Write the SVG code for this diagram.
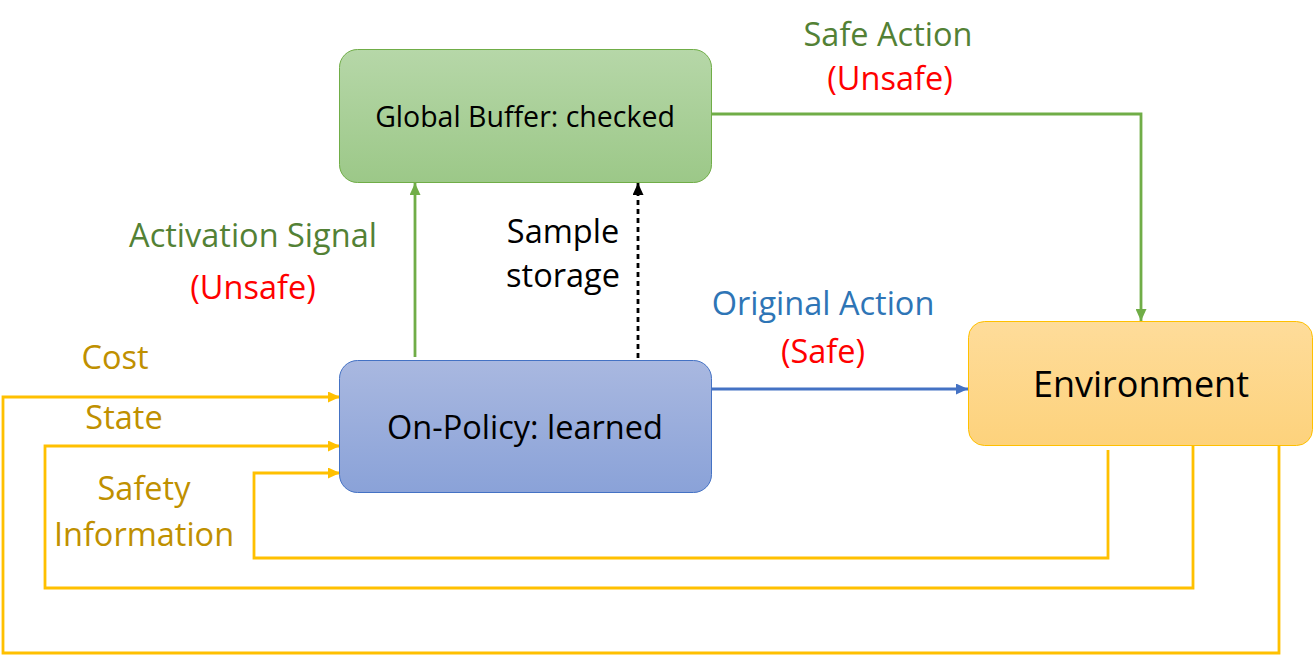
<svg xmlns="http://www.w3.org/2000/svg" width="1314" height="656" viewBox="0 0 1314 656">
<defs>
<linearGradient id="gGreen" x1="0" y1="0" x2="0" y2="1"><stop offset="0" stop-color="#b6d7a8"/><stop offset="1" stop-color="#9cc888"/></linearGradient>
<linearGradient id="gBlue" x1="0" y1="0" x2="0" y2="1"><stop offset="0" stop-color="#a9b8e0"/><stop offset="1" stop-color="#8aa2d8"/></linearGradient>
<linearGradient id="gYellow" x1="0" y1="0" x2="0" y2="1"><stop offset="0" stop-color="#fedc9a"/><stop offset="1" stop-color="#fdd27c"/></linearGradient>
<marker id="aGreen" viewBox="0 0 12 11" refX="12" refY="5.5" markerWidth="12" markerHeight="11" markerUnits="userSpaceOnUse" orient="auto"><path d="M0,0 L12,5.5 L0,11 Z" fill="#70ad47"/></marker>
<marker id="aBlack" viewBox="0 0 12 11" refX="12" refY="5.5" markerWidth="12" markerHeight="11" markerUnits="userSpaceOnUse" orient="auto"><path d="M0,0 L12,5.5 L0,11 Z" fill="#000"/></marker>
<marker id="aBlue" viewBox="0 0 12 11" refX="12" refY="5.5" markerWidth="12" markerHeight="11" markerUnits="userSpaceOnUse" orient="auto"><path d="M0,0 L12,5.5 L0,11 Z" fill="#4472c4"/></marker>
<marker id="aYellow" viewBox="0 0 12 11" refX="12" refY="5.5" markerWidth="12" markerHeight="11" markerUnits="userSpaceOnUse" orient="auto"><path d="M0,0 L12,5.5 L0,11 Z" fill="#ffc000"/></marker>
</defs>
<style>
text{font-family:"Open Sans","Noto Sans","DejaVu Sans",sans-serif;text-anchor:middle}
.node{font-size:28.5px;fill:#000}
.lbl{font-size:32.5px}
.green{fill:#538135}
.red{fill:#ff0000}
.blue{fill:#2e75b6}
.gold{fill:#bf9000}
.blk{fill:#000}
.c{fill:none;stroke-width:2.8}
</style>
<rect width="1314" height="656" fill="#fff"/>
<g id="connectors">
<path class="c" d="M415,357 V183" stroke="#70ad47" marker-end="url(#aGreen)"/>
<path class="c" d="M638,358 V183" stroke="#000" stroke-width="2" stroke-dasharray="5,4" marker-end="url(#aBlack)"/>
<path class="c" d="M712,389 H968" stroke="#4472c4" marker-end="url(#aBlue)"/>
<path class="c" d="M712,114 H1141 V321" stroke="#70ad47" marker-end="url(#aGreen)"/>
<path class="c" d="M1279,443 V653 H3 V397 H340" stroke="#ffc000" marker-end="url(#aYellow)"/>
<path class="c" d="M1193,446 V588 H45 V446 H340" stroke="#ffc000" marker-end="url(#aYellow)"/>
<path class="c" d="M1108,450 V558 H254 V473 H340" stroke="#ffc000" marker-end="url(#aYellow)"/>
</g>
<g id="global-buffer">
<rect x="339.5" y="49.5" width="372" height="133" rx="18" fill="url(#gGreen)" stroke="#70ad47" stroke-width="1"/>
<text class="node" x="525" y="127">Global Buffer: checked</text>
</g>
<g id="on-policy">
<rect x="339.5" y="360.5" width="372" height="132" rx="18" fill="url(#gBlue)" stroke="#4472c4" stroke-width="1"/>
<text class="node" x="525" y="439" style="font-size:32.5px">On-Policy: learned</text>
</g>
<g id="environment">
<rect x="968.5" y="321.5" width="344" height="124" rx="16" fill="url(#gYellow)" stroke="#ffc000" stroke-width="1"/>
<text class="node" x="1141" y="397" style="font-size:36px">Environment</text>
</g>
<g id="labels">
<text class="lbl green" x="888" y="46">Safe Action</text>
<text class="lbl red" x="890" y="90">(Unsafe)</text>
<text class="lbl green" x="253" y="247">Activation Signal</text>
<text class="lbl red" x="253" y="299">(Unsafe)</text>
<text class="lbl blk" x="563" y="243">Sample</text>
<text class="lbl blk" x="563" y="287">storage</text>
<text class="lbl blue" x="823" y="315">Original Action</text>
<text class="lbl red" x="823" y="363">(Safe)</text>
<text class="lbl gold" x="115" y="369">Cost</text>
<text class="lbl gold" x="124" y="429">State</text>
<text class="lbl gold" x="144" y="500">Safety</text>
<text class="lbl gold" x="144" y="546">Information</text>
</g>
</svg>
